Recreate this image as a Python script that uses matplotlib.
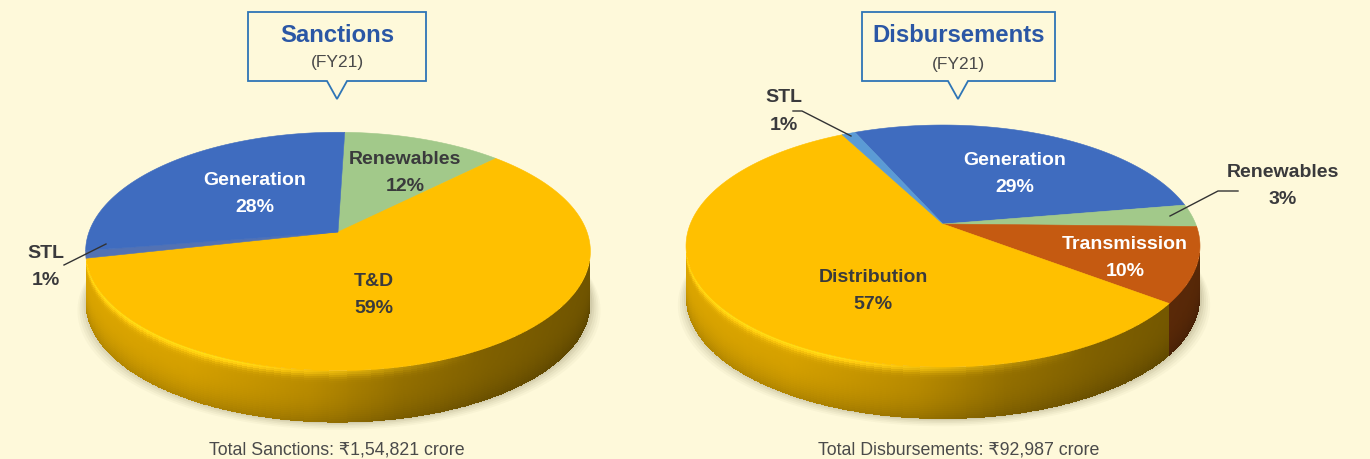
import numpy as np
import matplotlib
matplotlib.use('Agg')
import matplotlib.pyplot as plt
from matplotlib.colors import to_rgb
from matplotlib.patches import Polygon

plt.rcParams['font.family'] = ['Liberation Sans', 'DejaVu Sans']

sanction_names = ['Renewables', 'T&D', 'STL', 'Generation']
sanction_values = [12, 59, 1, 28]
sanction_colors = ['#A2C98A', '#FFC000', '#5272B4', '#3F6CBF']

disburse_names = ['Generation', 'Renewables', 'Transmission', 'Distribution', 'STL']
disburse_values = [29, 3, 10, 57, 1]
disburse_colors = ['#3F6CBF', '#A2C98A', '#C55A11', '#FFC000', '#5B9BD5']

BG = '#FEF9DA'
DARK = '#3A3A3C'
BLUE = '#2B57A5'
BOX = '#2E75B6'


def project(theta, cx, cy, rx, ry, k):
    # theta clockwise from the far edge of the disc
    u = np.sin(theta)
    v = np.cos(theta)
    w = 1 + k * v
    return cx + rx * u / w, cy - ry * v / w


def draw_pie(ax, values, colors, start, cx, cy, rx, ry, k, depth):
    edges = np.radians(start + np.cumsum([0] + values) * 3.6)
    theta = np.linspace(edges[0], edges[-1], 1441)
    x, y = project(theta, cx, cy, rx, ry, k)

    # soft shadow under the rim
    for grow, alpha in zip([9, 7, 5, 3, 1], [0.04, 0.05, 0.06, 0.08, 0.10]):
        ax.fill(cx + (x - cx) * (1 + grow / rx) + 1, y + depth + grow * 0.8,
                color='#6B6340', alpha=alpha, lw=0, zorder=1)

    # side of the disc as a mesh, only the front arc between the two tangent points
    front = np.cos(theta) < -k
    theta = theta[front]
    x, y = x[front], y[front]
    mid = (theta[:-1] + theta[1:]) / 2
    idx = np.clip(np.searchsorted(edges, mid) - 1, 0, len(values) - 1)
    frac = np.linspace(0, 1, 27)
    X = np.outer(x, np.ones_like(frac))
    Y = np.outer(y, np.ones_like(frac)) + np.outer(np.ones_like(y), frac) * depth
    nx = (project(mid, cx, cy, rx, ry, k)[0] - cx) / rx
    shade = np.interp(nx, [-1, -0.6, -0.1, 0.25, 0.6, 1], [0.86, 0.84, 0.72, 0.58, 0.5, 0.44])
    base = np.array([to_rgb(c) for c in colors])[idx]
    fmid = (frac[:-1] + frac[1:]) / 2
    rgb = base[:, None, :] * shade[:, None, None] * (1 - 0.18 * fmid[None, :, None] ** 3)
    # bright bevel along the top of the rim, strongest on the lit side
    lit = np.clip(0.55 - nx, 0, 1)[:, None, None]
    glow = np.exp(-(fmid[None, :, None] / 0.12) ** 2) * lit
    rgb = np.clip(rgb + glow * (base[:, None, :] * np.array([1.0, 1.05, 1.0]) - rgb + 0.08), 0, 1)
    ax.pcolormesh(X, Y, rgb, shading='flat', antialiased=False, linewidth=0, zorder=2)

    # top face
    for i, color in enumerate(colors):
        t = np.linspace(edges[i], edges[i + 1], 180)
        px, py = project(t, cx, cy, rx, ry, k)
        pts = np.column_stack([np.r_[cx, px], np.r_[cy, py]])
        ax.add_patch(Polygon(pts, closed=True, facecolor=color, edgecolor=color, lw=0.4, zorder=3))


def callout(ax, left, right, tip_x, title, title_y, sub_y):
    top, bottom, tip_y = 13, 82, 100
    pts = [(left, top), (right, top), (right, bottom), (tip_x + 10, bottom), (tip_x, tip_y),
           (tip_x - 10, bottom), (left, bottom)]
    ax.add_patch(Polygon(pts, closed=True, facecolor='none', edgecolor=BOX, lw=1.3, zorder=5))
    mid = (left + right) / 2
    ax.text(mid, title_y, title, color=BLUE, fontsize=17.2, fontweight='bold', ha='center', va='center')
    ax.text(mid, sub_y, '(FY21)', color='#4A4A4A', fontsize=12.5, ha='center', va='center')


def label(ax, x, y, name, pct, color=DARK, size=14):
    ax.text(x, y, name, color=color, fontsize=size, fontweight='bold', ha='center', va='center', zorder=6)
    ax.text(x, y + 27, pct, color=color, fontsize=size, fontweight='bold', ha='center', va='center', zorder=6)


def main():
    fig = plt.figure(figsize=(13.7, 4.6), dpi=100, facecolor=BG)
    ax = fig.add_axes([0, 0, 1, 1])
    ax.set_xlim(0, 1370)
    ax.set_ylim(460, 0)
    ax.axis('off')

    draw_pie(ax, sanction_values, sanction_colors, 1.8, 338, 233, 249, 116, 0.163, 52)
    draw_pie(ax, disburse_values, disburse_colors, -24, 943, 225, 252.7, 117, 0.182, 52)

    callout(ax, 248, 426, 337, 'Sanctions', 35, 62)
    callout(ax, 862, 1055, 958, 'Disbursements', 35, 64)

    label(ax, 405, 160, 'Renewables', '12%')
    label(ax, 255, 181, 'Generation', '28%', color='white')
    label(ax, 374, 282, 'T&D', '59%')
    label(ax, 46, 254, 'STL', '1%')

    label(ax, 1015, 161, 'Generation', '29%', color='white')
    label(ax, 1283, 173, 'Renewables', '3%')
    label(ax, 1125, 245, 'Transmission', '10%', color='white')
    label(ax, 873, 278, 'Distribution', '57%')
    label(ax, 784, 98, 'STL', '1%')

    ax.plot([64, 106], [266, 245], color='#333333', lw=1, zorder=6)
    ax.plot([1170, 1218, 1238], [217, 192, 192], color='#333333', lw=1, zorder=6)
    ax.plot([793, 802, 851], [112, 112, 137], color='#333333', lw=1, zorder=6)

    ax.text(337, 450, 'Total Sanctions: ₹1,54,821 crore', color='#4A4A4A', fontsize=12.8, ha='center', va='center')
    ax.text(959, 450, 'Total Disbursements: ₹92,987 crore', color='#4A4A4A', fontsize=12.8, ha='center', va='center')

    fig.savefig('out.png', dpi=100, facecolor=BG)


if __name__ == "__main__":
    main()
